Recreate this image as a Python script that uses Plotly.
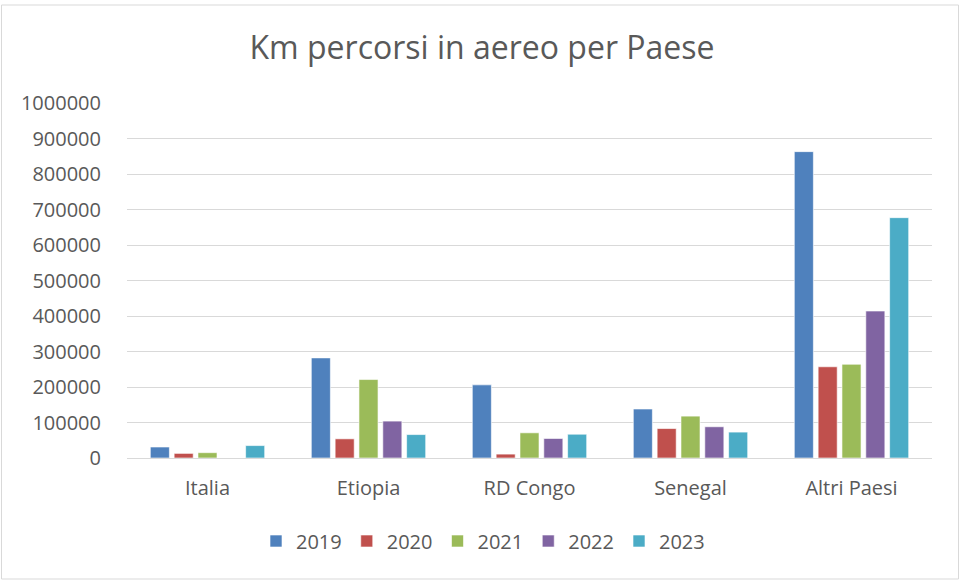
import plotly.graph_objects as go

categories = ["Italia", "Etiopia", "RD Congo", "Senegal", "Altri Paesi"]
years = ["2019", "2020", "2021", "2022", "2023"]
v2019 = [31000, 282000, 206000, 138000, 863000]
v2020 = [13000, 54000, 11000, 83000, 257000]
v2021 = [15000, 221000, 71000, 118000, 264000]
v2022 = [0, 104000, 55000, 88000, 414000]
v2023 = [35000, 66000, 67000, 73000, 677000]
series = [v2019, v2020, v2021, v2022, v2023]
colors = ["#4F81BD", "#C0504D", "#9BBB59", "#8064A2", "#4BACC6"]

FONT = "Open Sans, Liberation Sans, Arial, sans-serif"
TXT = "#595959"

fig = go.Figure()
for y, vals, c in zip(years, series, colors):
    fig.add_trace(go.Bar(name=y, x=categories, y=vals,
                         marker=dict(color=c, line=dict(color="rgba(255,255,255,0.6)", width=1))))

W, H = 961, 581
L, R, T, B = 127, 29, 103, 123
pw, ph = W - L - R, H - T - B

def px(x):
    return (x - L) / pw

def py(y):
    return (H - B - y) / ph

fig.update_layout(
    width=W, height=H,
    margin=dict(l=L, r=R, t=T, b=B),
    paper_bgcolor="white", plot_bgcolor="white",
    barmode="group", bargap=0.26, bargroupgap=0.2,
    font=dict(family=FONT, color=TXT, size=20),
    title=dict(text="Km percorsi in aereo per Paese", x=482 / W, xanchor="center",
               y=1 - 48 / H, yanchor="middle", font=dict(size=32, color=TXT, family=FONT)),
    legend=dict(orientation="h", x=px(483), xanchor="center", y=py(541), yanchor="middle",
                font=dict(size=20, color=TXT), traceorder="normal"),
    xaxis=dict(showgrid=False, showline=True, linecolor="#D9D9D9", linewidth=1,
               ticks="", ticklabelstandoff=12, tickfont=dict(size=20, color=TXT)),
    yaxis=dict(range=[0, 1000000], dtick=100000, tickformat="d", showgrid=True,
               gridcolor="#D9D9D9", gridwidth=1, zeroline=False, showline=False,
               ticks="", ticklabelstandoff=25, tickfont=dict(size=20, color=TXT)),
    shapes=[dict(type="rect", xref="paper", yref="paper",
                 x0=px(1.5), x1=px(958.5), y0=py(579), y1=py(5),
                 line=dict(color="#D9D9D9", width=1))],
)

fig.write_html("out.html", config={"displayModeBar": False},
               post_script="document.body.style.margin='0';document.body.style.padding='0';")
